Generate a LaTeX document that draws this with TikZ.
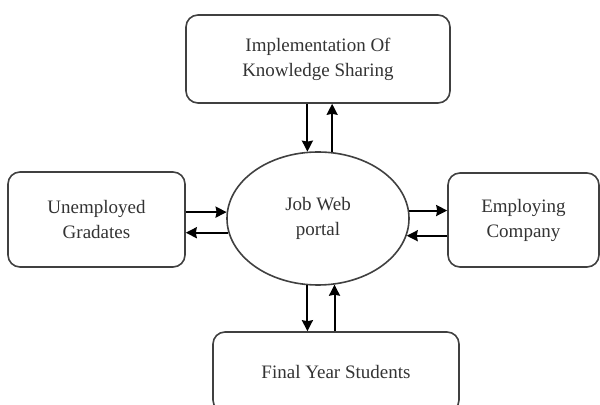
\documentclass[tikz,border=0pt]{standalone}
\usepackage{fontspec}
\setmainfont{Liberation Serif}
\usetikzlibrary{shapes.geometric,arrows.meta}
\begin{document}
\begin{tikzpicture}[x=0.5pt,y=-0.5pt]
				\tikzset{b/.style={draw=black!75,line width=0.8pt,rectangle,rounded corners=6pt,align=center,text=black!80,font=\fontsize{9.5}{12.5}\selectfont}}
				\tikzset{e/.style={draw=black!75,line width=0.8pt,ellipse,inner sep=0pt,minimum width=91pt,minimum height=66.5pt,align=center,text=black!80,font=\fontsize{9.5}{12.5}\selectfont}}
				\clip(0,0)rectangle(600,405);
				\path(318,218.5)node[e](portal){Job Web\\portal};
				\path(318,59)node[b,minimum width=132pt,minimum height=44pt](impl){Implementation Of\\Knowledge Sharing};
				\path(96.5,219.5)node[b,minimum width=88.5pt,minimum height=47.5pt](unemp){Unemployed\\Gradates};
				\path(523.5,220)node[b,minimum width=75.5pt,minimum height=47pt](employ){Employing\\Company};
				\path(336,372)node[b,minimum width=123pt,minimum height=40pt](final){Final Year Students};
				\foreach \x/\y in {
					impl.south -| portal.99/portal.99,
					portal.78/impl.south -| portal.78,
					unemp.east |- portal.176/portal.176,
					portal.189/unemp.east |- portal.189,
					portal.5/employ.west |- portal.5,
					employ.west |- portal.349/portal.349,
					portal.261/final.north -| portal.261,
					final.north -| portal.284/portal.284}
				\draw[-{Stealth[length=5.5pt,width=5.5pt,inset=0.5pt]},line width=1pt](\x)--(\y);
			\end{tikzpicture}
\end{document}
